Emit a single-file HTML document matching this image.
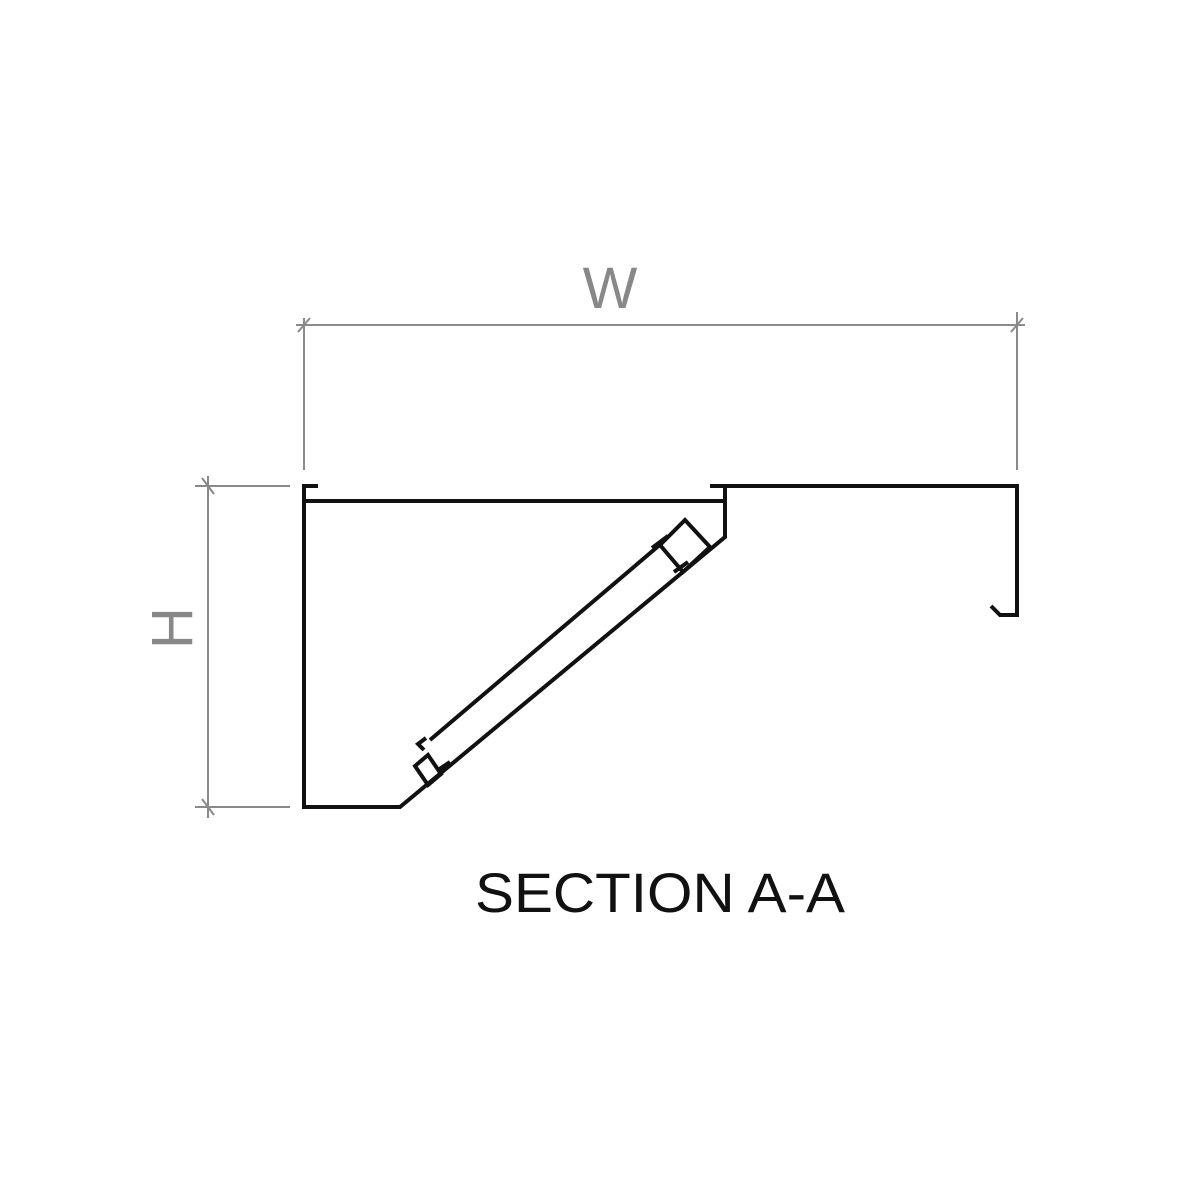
<!DOCTYPE html>
<html><head><style>
html,body{margin:0;padding:0;background:#fff;width:1181px;height:1181px;overflow:hidden}
</style></head><body>
<svg width="1181" height="1181" viewBox="0 0 1181 1181" xmlns="http://www.w3.org/2000/svg">
<g stroke="#8a8a8a" stroke-width="2" fill="none">
<line x1="296" y1="325" x2="1025" y2="325"/>
<line x1="298" y1="332" x2="310" y2="318"/>
<line x1="1011" y1="332" x2="1023" y2="318"/>
<line x1="304" y1="318" x2="304" y2="470"/>
<line x1="1017" y1="312" x2="1017" y2="470"/>
<line x1="208" y1="476" x2="208" y2="818"/>
<line x1="195" y1="486" x2="290" y2="486"/>
<line x1="195" y1="807" x2="290" y2="807"/>
<line x1="202" y1="478" x2="214" y2="494"/>
<line x1="202" y1="799" x2="214" y2="815"/>
</g>
<g stroke="#111" stroke-width="4" fill="none" stroke-linejoin="miter">
<polyline points="318,486 304,486 304,807 400,807 725,537 725,486 710,486"/>
<line x1="304" y1="501" x2="725" y2="501"/>
<polyline points="725,486 1017,486 1017,615 1000,615 991,606"/>
<polygon points="660,545 685,520 710,547 683,572"/>
<line x1="662" y1="543" x2="430" y2="740"/>
<line x1="652" y1="548" x2="668" y2="536"/>
<line x1="674" y1="572" x2="688" y2="562"/>
<polygon points="415,766 428,755 441,774 428,785"/>
<polyline points="424,750 418,744 426,738"/>
<line x1="438" y1="770" x2="450" y2="762"/>
</g>
<text x="610" y="308" font-family="Liberation Sans, sans-serif" font-size="58" fill="#888" text-anchor="middle">W</text>
<text transform="translate(192,628) rotate(-90)" font-family="Liberation Sans, sans-serif" font-size="58" fill="#888" text-anchor="middle">H</text>
<text x="660" y="912" font-family="Liberation Sans, sans-serif" font-size="56" fill="#111" text-anchor="middle" textLength="370" lengthAdjust="spacingAndGlyphs">SECTION A-A</text>
</svg>
</body></html>
